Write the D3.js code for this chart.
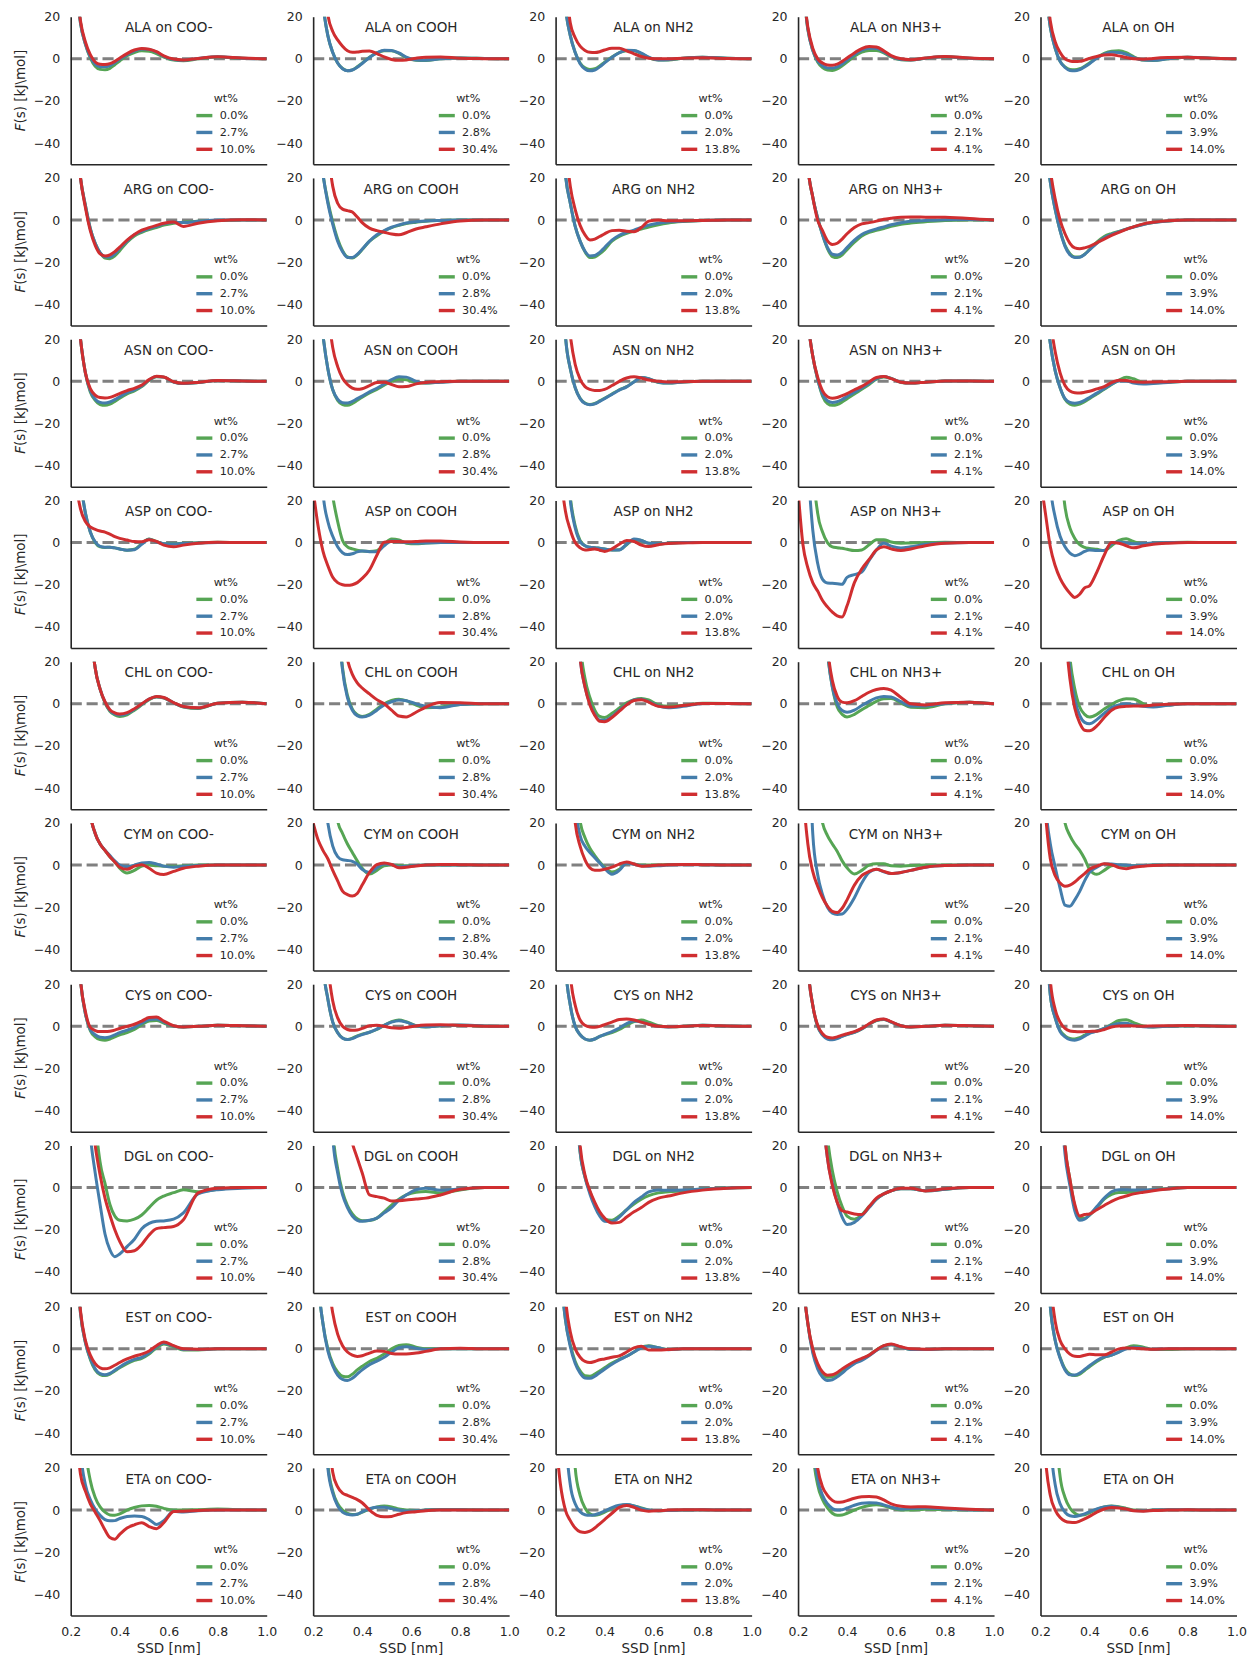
<!DOCTYPE html>
<html>
<head>
<meta charset="utf-8">
<script src="https://cdn.jsdelivr.net/npm/d3@7"></script>
<style>
  body { margin: 0; background: #ffffff; }
  svg { display: block; }
  text { font-family: "DejaVu Sans", sans-serif; fill: #262626; }
</style>
</head>
<body>
<svg id="chart" width="1247" height="1658"></svg>
<script>
// Surface-separation distance grid (nm) shared by every free-energy profile
const ssd = [0.20,0.22,0.24,0.26,0.28,0.30,0.32,0.34,0.36,0.38,0.40,0.43,0.46,0.49,0.52,0.55,0.58,0.62,0.66,0.72,0.80,0.90,1.00];

const surfaces = ["COO-", "COOH", "NH2", "NH3+", "OH"];
const molecules = ["ALA", "ARG", "ASN", "ASP", "CHL", "CYM", "CYS", "DGL", "EST", "ETA"];
// Solute concentration of each series, per surface column
const wtLabels = [
  ["0.0%", "2.7%", "10.0%"],
  ["0.0%", "2.8%", "30.4%"],
  ["0.0%", "2.0%", "13.8%"],
  ["0.0%", "2.1%", "4.1%"],
  ["0.0%", "3.9%", "14.0%"]
];
const seriesColors = ["#56a554", "#447dab", "#d02e30"];
const yTicks = [20, 0, -20, -40];
const xTicks = [0.2, 0.4, 0.6, 0.8, 1.0];

// F(s) in kJ/mol; per molecule: 5 surfaces x [0.0%, mid, high] series on the ssd grid
const ALA = [
 [[70,40,17,7,0.5,-3.5,-5,-5.2,-4.5,-2.8,-1,1.5,3,3.8,3.6,2.5,0.8,-0.6,-0.9,0,0.9,0.3,0],
  [70,40,17,7,1,-2.5,-3.7,-3.8,-3.2,-1.8,-0.2,2,3.8,4.7,4.4,3.2,1.2,-0.3,-0.7,0.2,1,0.3,0],
  [70,40,18,8,2,-1.5,-2.6,-2.7,-2.3,-1.2,0.3,2.5,4.2,4.9,4.6,3.4,1.4,-0.1,-0.5,0.2,1,0.4,0]],
 [[100,55,26,11,3,-2,-4.6,-5.6,-5.2,-3.8,-2,0.8,2.8,3.9,3.8,2.6,0.6,-0.7,-0.8,0,0.4,0.2,0],
  [100,55,26,11,3,-2,-4.7,-5.7,-5.3,-4,-2.2,0.6,2.8,4.1,4,2.8,0.8,-0.6,-0.7,0,0.4,0.2,0],
  [150,90,45,21,13,9,6,3.8,3.1,3.2,3.6,3.7,2.5,0.9,-0.3,-0.7,-0.5,0.3,0.8,0.9,0.3,0.1,0]],
 [[120,60,25,11,3,-2,-4.3,-5,-4.7,-3.4,-1.6,0.9,3,3.9,3.8,2.5,0.6,-0.6,-0.5,0.3,0.8,0.3,0],
  [120,60,25,11,3,-2.3,-4.8,-5.7,-5.3,-3.8,-1.9,0.7,2.9,4.1,4,2.7,0.8,-0.5,-0.4,0.3,0.8,0.3,0],
  [120,70,38,17,10,6,4,3.1,3,3.4,4.2,5,5,3.8,2.4,1.1,0.3,0,0,0.3,0.5,0.2,0]],
 [[60,35,14,4,-1.5,-4.2,-5.3,-5.5,-4.8,-3.3,-1.5,1.2,3.2,4,3.9,2.8,0.9,-0.4,-0.6,0.3,1,0.3,0],
  [60,35,14,4,-1,-3.3,-4.3,-4.4,-3.8,-2.4,-0.6,2,4.1,5,4.9,3.3,1.1,-0.3,-0.5,0.3,1,0.3,0],
  [60,35,15,5,0,-2,-2.9,-3,-2.5,-1.2,0.4,2.8,4.9,5.8,5.6,3.8,1.5,0,-0.4,0.4,1.1,0.4,0]],
 [[60,35,15,5,-1.2,-3.8,-5,-5.2,-4.7,-3.5,-2,0.6,2.6,3.6,3.8,2.9,1,-0.6,-0.8,0,0.8,0.3,0],
  [60,35,15,5,-1.2,-4.1,-5.5,-5.7,-5.1,-3.8,-2.3,0.3,2.2,3.1,3,2.2,0.7,-0.6,-0.7,0,0.7,0.3,0],
  [65,40,18,8,3,0,-1,-1.3,-1.2,-0.6,0.2,1.1,1.8,1.9,1.4,0.6,0,-0.2,0.2,0.6,0.8,0.3,0]]
];

const ARG = [
 [[70,45,20,7,-4,-11,-15.5,-18,-18.3,-17,-14.5,-10.5,-7.5,-5.8,-4.5,-3.5,-2.4,-1.5,-1,-0.6,-0.2,0,0],
  [70,45,20,7,-4,-11,-15.5,-17.4,-17.5,-16,-13.5,-10,-7,-5.3,-4,-3,-1.8,-1,-1.2,-0.6,0,0,0],
  [70,45,20,6,-5,-12,-16,-17,-16.5,-15,-12.8,-9.5,-6.8,-4.8,-3.6,-2.5,-1.5,-0.9,-3,-1.5,-0.3,0.2,0]],
 [[90,45,22,9,-1,-9,-14.5,-17.5,-18,-16.5,-14,-10,-7.4,-5.2,-3.6,-2.5,-1.6,-1,-0.5,-0.2,0,0,0],
  [90,45,22,8,-2,-10,-15,-17.7,-17.8,-16.3,-13.8,-10,-7,-5,-3.4,-2.3,-1.4,-0.8,-0.4,-0.2,0,0,0],
  [200,120,70,35,16,8,5.2,4.5,3.8,1.5,-1.2,-3.8,-5,-5.8,-6.6,-7,-6,-4.2,-3.2,-1.8,-0.4,0,0]],
 [[120,60,22,8,-3,-10,-15,-17.8,-17.5,-16,-14,-10,-7.8,-6.3,-5.2,-4.3,-3.3,-2.2,-1.4,-0.7,-0.2,0,0],
  [120,60,22,8,-3,-10,-14.8,-17,-16.8,-15.3,-13,-9.5,-7.2,-5.8,-4.8,-3.5,-2.4,-1.5,-0.9,-0.5,-0.2,0,0],
  [150,80,38,16,5,-2.5,-7,-9.4,-9,-7.8,-6.5,-5,-4.8,-5.3,-5.5,-3.5,-0.5,0,-0.3,-0.3,-0.2,0,0]],
 [[150,70,26,11,1,-7,-13.5,-17.3,-17.8,-16.5,-14,-10.5,-7.5,-5.8,-4.9,-4,-3,-2,-1.4,-0.8,-0.2,0,0],
  [150,70,26,11,1,-7,-13,-16.2,-16.6,-15.5,-13,-9.5,-6.8,-5.3,-4.2,-3.2,-2.2,-1.3,-0.6,-0.2,0.2,0.3,0],
  [150,70,26,11,0,-5,-9.8,-11.6,-11,-9,-6.5,-3.5,-1.8,-1.2,-0.5,0.4,0.9,1.4,1.5,1.4,1.3,0.8,0]],
 [[80,40,18,5,-5,-12,-16,-17.5,-17.5,-16.2,-14,-10.5,-7.8,-6.4,-5.4,-4.3,-3.2,-2,-1.1,-0.4,0,0,0],
  [80,40,18,5,-5,-12.5,-16.5,-17.8,-17.6,-16.3,-14.2,-11,-8.4,-6.8,-5.5,-4.3,-3.3,-2.1,-1.2,-0.4,0,0,0],
  [90,48,24,10,0,-6.5,-11,-13.2,-13.6,-13.2,-12.5,-10.8,-9,-7.3,-5.8,-4.4,-3.2,-1.8,-1,-0.3,0,0,0]]
];

const ASN = [
 [[70,45,20,4,-5,-9,-11,-11.4,-10.8,-9.5,-8,-6,-4.5,-2.5,0.5,2.2,2,-0.3,-1,-0.6,0.4,0.2,0],
  [70,45,20,4,-4.5,-8.5,-10,-10.3,-9.8,-8.7,-7.3,-5.4,-4,-2.2,0.6,2.3,2,-0.3,-1,-0.6,0.4,0.2,0],
  [70,45,20,4,-3.5,-6.5,-7.7,-7.9,-7.6,-6.8,-5.8,-4.4,-3.3,-1.8,0.8,2.4,2.1,-0.2,-0.9,-0.5,0.4,0.2,0]],
 [[90,45,22,6,-4,-9,-11,-11.4,-10.5,-9,-7.5,-5.5,-3.8,-1.8,0,1,0.8,-0.5,-0.8,-0.3,0,0,0],
  [90,45,22,6,-4,-8.5,-10.2,-10.3,-9.5,-8.2,-7,-5,-3.3,-1.2,0.8,2.2,2,0,-0.8,-0.4,0,0,0],
  [200,120,70,35,16,7,1.5,-1.5,-3.2,-3.8,-3.5,-2,-0.6,-0.4,-1.5,-2.6,-2.5,-1.2,-0.5,-0.2,0,0,0]],
 [[150,70,22,6,-3,-8,-10.3,-11,-10.5,-9.3,-8,-6,-4,-2.5,-0.2,1.8,1.2,-0.5,-0.8,-0.3,0,0,0],
  [150,70,22,6,-3,-8.2,-10.5,-11.1,-10.7,-9.5,-8.2,-6.2,-4.2,-2.6,-0.3,1.8,1.3,-0.4,-0.8,-0.3,0,0,0],
  [160,90,48,22,8,1,-2.5,-3.8,-4.3,-4.3,-3.8,-2,0,1.6,2.2,1.6,0.6,0,-0.3,-0.2,0,0,0]],
 [[150,70,30,12,1,-7,-10.5,-11.4,-11,-9.8,-8.3,-6,-3.8,-1.5,1,2.1,1.4,-0.5,-0.8,-0.4,0.2,0.2,0],
  [150,70,30,12,1,-6.2,-9.2,-10,-9.6,-8.6,-7.2,-5.2,-3.2,-1,1.3,2.3,1.4,-0.4,-0.8,-0.4,0.2,0.2,0],
  [150,70,30,12,2,-4.5,-7.3,-8,-7.7,-6.8,-5.8,-4,-2.4,-0.3,1.8,2.3,1.3,-0.4,-0.8,-0.4,0.2,0.2,0]],
 [[80,40,18,5,-3,-8.5,-10.8,-11.3,-10.8,-9.6,-8.2,-6,-3.8,-1.5,0.5,1.9,1.2,-0.6,-0.8,-0.4,0,0,0],
  [80,40,18,5,-3,-8.2,-10,-10.4,-10,-9,-7.7,-5.6,-3.5,-1.3,0.2,0.2,-0.8,-1.3,-1,-0.5,0,0,0],
  [100,60,30,14,4,-2,-4.6,-5.4,-5.5,-5.2,-4.7,-3.6,-2.5,-0.6,0.5,0.4,-0.2,-0.4,-0.3,-0.2,0,0,0]]
];

const ASP = [
 [[100,60,30,14,5,0,-2,-2.3,-2.2,-2.5,-3,-3.6,-3.2,-0.5,1.7,0.5,-0.5,-0.6,-0.3,-0.1,0.2,0,0],
  [100,60,30,14,5,0.3,-1.8,-2.2,-2.2,-2.5,-3,-3.6,-3.4,-0.8,1.6,0.3,-0.5,-0.7,-0.4,-0.2,0.1,0,0],
  [60,30,16,10,7.4,6.3,5.5,5,4,2.8,2,1.2,0.5,0.4,1.4,0.6,-1.2,-2,-1.2,-0.3,0.2,0,0]],
 [[300,160,80,40,22,10,1,-2,-3,-3.6,-4,-4.2,-3.8,-0.8,1.7,1.3,-0.3,-0.6,-0.2,0,0,0,0],
  [150,70,24,10,3,-2,-4.8,-5.7,-5.3,-4.4,-4,-4.3,-4.3,-1.5,0.8,0.6,0,-0.3,-0.2,0,0,0,0],
  [25,8,-4,-11,-16.5,-19,-20,-20.3,-20,-19,-17,-13,-6,0.2,0.5,0.5,0.4,0.5,0.8,0.8,0.3,0,0]],
 [[200,120,55,22,8,1,-1.5,-2.2,-2.4,-2.7,-3,-3.5,-3.4,-1,1.5,1,-0.3,-0.5,-0.3,0,0,0,0],
  [180,100,50,20,7,0.5,-1.5,-2.2,-2.4,-2.7,-3,-3.5,-3.5,-0.8,1.7,1,-0.3,-0.5,-0.3,0,0,0,0],
  [80,35,15,6,0,-2.5,-3.5,-3.3,-3,-3.6,-4.2,-3,-0.8,1,0.5,-1.2,-1.9,-1,-0.4,-0.2,0,0,0]],
 [[400,250,120,40,14,5,0,-2,-2.4,-2.7,-3.2,-3.8,-3.5,-1,1.3,1.4,0.3,-0.3,-0.2,0,0.2,0,0],
  [200,110,40,6,-9.8,-17.5,-19.2,-19.3,-19.5,-19.8,-16.5,-15.2,-14,-8.5,-3.5,-0.3,-1.7,-2.6,-2,-0.8,-0.2,0,0],
  [25,-1,-12,-19,-23,-27.5,-30.5,-33,-34.8,-35.3,-30,-19,-12.5,-8,-3.5,-2,-3,-3.8,-3,-1.5,-0.3,0,0]],
 [[400,250,150,85,42,17,7,2,-1,-2.3,-2.8,-3.2,-3.8,-1.5,1,1.8,0.5,-0.5,-0.3,0,0.2,0,0],
  [150,80,28,12,3,-2,-5,-6.2,-5.5,-4.2,-3.5,-3.8,-3.8,-0.5,0.3,-0.2,-0.5,-0.4,-0.2,0,0,0,0],
  [30,14,-2,-11,-17,-21,-24,-26,-24.5,-21.5,-20.5,-14,-6,0,-0.3,-1.5,-2.5,-1.5,-0.8,-0.3,0,0,0]]
];

const CHL = [
 [[600,400,220,100,40,17,7,0.5,-3.5,-5.3,-6,-5.2,-3,-0.5,2,3.2,2.8,0.5,-1.5,-2.2,0.3,0.8,0],
  [600,400,220,100,40,17,7,0.8,-3.2,-4.8,-5.3,-4.6,-2.6,-0.2,2.2,3.4,2.9,0.5,-1.4,-2,0.3,0.8,0],
  [600,400,220,100,40,17,7,1,-2.8,-4.3,-4.8,-4.2,-2.3,0,2.3,3.5,3,0.6,-1.3,-1.9,0.3,0.8,0]],
 [[800,550,350,200,100,45,17,4,-2.5,-5.2,-6,-5,-2.5,0,1.6,2.2,1.5,-0.6,-1.8,-1.5,-0.3,0,0],
  [800,550,350,200,100,45,16,3,-3,-5.6,-6.3,-5.4,-3,-0.5,1,1.8,1.5,0,-1.2,-1.8,-0.3,0,0],
  [900,700,500,300,150,70,35,21,14,10,7.5,4.7,2,0,-3,-5.8,-6.2,-4,-1.5,0.6,0.5,0,0]],
 [[700,500,300,170,80,30,12,3,-3,-6,-6.5,-4.5,-2,0.5,2,2.5,1.8,-0.5,-1.2,-0.8,0.3,0.2,0],
  [600,400,250,130,60,22,8,0,-5,-7.7,-7.8,-6,-3,-0.3,1.8,2.2,1,-1,-1.8,-1.2,0.2,0.2,0],
  [600,400,250,130,60,22,8,-0.5,-5.5,-8.3,-8.5,-6.5,-3.5,-0.5,1.6,2,0.8,-1.2,-1.5,-0.8,0.2,0.2,0]],
 [[900,600,400,250,130,60,25,8,-1.5,-5,-6.2,-5,-2.8,-0.8,1.2,2.4,2.5,0.5,-1.6,-1.8,0,0.8,0],
  [900,600,400,250,130,60,25,8,0,-3.2,-4,-3,-0.8,1.2,2.8,3.5,3.3,1,-1,-1,0.2,0.8,0],
  [900,600,400,250,130,60,27,11,3.5,0.8,0.5,1.5,3.5,5.5,6.8,7.3,6.5,3,0,-0.5,0.5,0.8,0]],
 [[900,600,400,250,120,55,22,7,-1.5,-5,-6.3,-5,-2.5,-0.3,1.5,2.4,2.3,0,-1.2,-0.6,0.2,0,0],
  [800,550,350,200,100,45,16,2,-5.5,-8.8,-9.5,-7.5,-4.5,-1.8,-0.5,0,-0.3,-1.2,-1.5,-0.7,0,0,0],
  [800,520,330,190,90,38,12,-2,-9,-12.5,-12.8,-10.5,-6.5,-3,-1.5,-1.2,-1,-1,-0.6,-0.2,0,0,0]]
];

const CYM = [
 [[300,200,120,60,25,15,10,7,4,1.5,-1.5,-3.8,-2.5,-0.5,0,-0.3,-0.5,-0.5,-0.3,0,0,0,0],
  [300,200,120,60,25,15,10,7,4.5,2,0,-0.8,0,1,1.2,0.5,-0.5,-1,-0.6,-0.2,0,0,0],
  [300,200,120,60,25,15,10,7,4,1.5,-1,-2,-0.5,0.2,-1.5,-3.8,-4.5,-3,-1.5,-0.5,0,0,0]],
 [[500,300,180,100,50,21,15,10,6,2,-1.5,-4.2,-2.5,-0.3,0,-0.2,-0.3,-0.2,0,0,0,0,0],
  [150,80,40,20,9,4,2.5,2.2,1.8,0.5,-2,-3.5,-1.2,0.5,0.3,-0.9,-0.6,-0.2,0,0,0,0,0],
  [20,12,7,3,-2.5,-7.5,-12.3,-14,-14.7,-13.5,-9.5,-3.5,0.2,1,0.3,-1.3,-1,-0.4,0,0.3,0.2,0,0]],
 [[800,500,300,150,60,21,13,8,4.5,1.5,-1,-3.3,-2,1,0.5,0,0,0,0.3,0.3,0.2,0,0],
  [600,400,200,90,30,14,9,6,3.5,1,-1.5,-4.3,-2.5,0.9,0.4,-0.3,-0.5,-0.3,0,0.2,0.2,0,0],
  [400,250,120,50,20,9,2.5,-1.3,-2.4,-2.4,-2,-1,0.5,1.5,0.5,-0.5,-0.3,0,0.2,0.3,0.2,0,0]],
 [[600,300,150,70,35,20,14,10,6.5,2,-1.3,-4.2,-2.5,0,0.6,0.6,-0.3,-0.5,-0.2,0,0,0,0],
  [300,180,80,15,-4.5,-14,-20,-22.8,-23.4,-23.2,-21,-15.5,-8.5,-3.5,-2,-3.2,-4,-3.5,-2.5,-1,-0.2,0,0],
  [120,40,10,-3,-10,-15.5,-19.5,-22,-22.5,-20.5,-16.5,-9.5,-5,-3,-2,-3,-4,-3.5,-2.5,-1,-0.2,0,0]],
 [[600,300,150,70,35,20,14,10,7,3,-2,-4.4,-2.5,-0.3,0,-0.2,-0.3,-0.2,0,0,0,0,0],
  [80,30,10,-1,-11,-19,-19.5,-16.5,-12.5,-7.5,-3.5,-1,0.5,0.5,0.2,0,-0.3,-0.2,0,0,0,0,0],
  [60,25,3,-5,-8.5,-10,-9.5,-8,-6,-4,-2,-0.5,0.6,0.2,-1.2,-1.7,-1,-0.5,-0.2,0,0,0,0]]
];

const CYS = [
 [[120,60,22,6,-2,-5,-6.3,-6.6,-6,-5,-4,-3,-1.5,0.8,2.5,2.8,1.5,0,-0.3,0,0.5,0.3,0],
  [120,60,22,6,-1.5,-4,-5.2,-5.4,-5,-4,-3,-1.8,-0.5,1.5,3.2,3.5,2,0.2,-0.3,0,0.5,0.3,0],
  [120,60,22,7,-0.5,-2,-2.5,-2.5,-2.3,-1.8,-1,0,1,2.5,4.2,4.4,2.5,0.3,-0.3,0,0.5,0.3,0]],
 [[150,80,30,13,2,-3,-5.5,-6.2,-5.6,-4.5,-3.7,-2.8,-1.5,0.5,2.2,3,2.2,0.3,-0.3,0.3,0.5,0.2,0],
  [150,80,30,13,2,-3,-5.6,-6.3,-5.8,-4.8,-3.9,-2.8,-1.3,0.5,2,2.7,2,0.3,-0.2,0.3,0.6,0.2,0],
  [300,150,70,30,12,4,0,-1.5,-1.9,-1.7,-1,0.3,0.5,0,-0.7,-0.9,-0.5,0.2,0.6,0.8,0.4,0.1,0]],
 [[200,100,30,10,0,-4,-6,-6.6,-6,-4.8,-4,-3,-1.5,0.5,2.2,3,2,0.3,-0.2,0,0.5,0.2,0],
  [200,100,30,10,0,-4,-6,-6.6,-6,-4.8,-3.8,-2.5,-0.8,1.3,2.5,2,1,0,-0.3,0,0.5,0.2,0],
  [250,150,70,25,10,3,0.5,-0.3,-0.4,0,0.8,2,3.2,3.5,3,2,1,0,-0.2,0,0.4,0.2,0]],
 [[200,100,30,10,0,-4,-5.8,-6.2,-5.6,-4.6,-3.8,-2.8,-1.2,1,2.8,3.3,2,0.3,-0.3,0,0.5,0.3,0],
  [200,100,30,10,0,-4.2,-6,-6.4,-5.8,-4.8,-3.9,-2.8,-1.2,1,2.8,3.4,2,0.3,-0.3,0,0.5,0.3,0],
  [200,100,30,10,0.5,-3.5,-5.2,-5.5,-5,-4.2,-3.5,-2.5,-1,1.2,3,3.5,2.2,0.3,-0.3,0,0.5,0.3,0]],
 [[100,50,15,4,-2,-4.5,-5.7,-6,-5.4,-4.2,-3,-2.2,-1,1,2.8,3.1,1.8,0.2,-0.3,0,0.3,0.2,0],
  [100,50,15,4,-2.5,-5,-6.3,-6.6,-6,-4.7,-3.3,-2.3,-1,0.5,1.4,1.5,0.5,-0.2,-0.3,0,0.3,0.2,0],
  [150,70,22,8,2,-1,-2.2,-2.5,-2.6,-2.5,-2.4,-2.3,-1.5,-0.3,0.2,0.3,0.2,0.1,0.2,0.3,0.4,0.2,0]]
];

const DGL = [
 [[900,600,400,200,90,35,12,2,-8,-13.5,-15.5,-15.8,-15,-13,-9.5,-6,-4,-2.4,-1,-2,-0.8,0,0],
  [300,200,110,60,25,7,-8,-22,-29.5,-32.8,-31.5,-28,-24.5,-19.5,-17,-16,-15.8,-15,-12,-3,-1,-0.3,0],
  [400,250,150,80,40,20,6,-5,-13,-20,-25.5,-30.5,-30,-27,-22.5,-19.5,-19,-18.5,-15.3,-2.5,-0.3,0,0]],
 [[800,400,200,90,28,9,-2,-8.5,-12.5,-14.8,-15.7,-15.6,-14.5,-11.5,-8.3,-5.5,-3.5,-2.2,-1.9,-2.6,-1.1,0,0],
  [700,350,180,80,24,7,-3.5,-9.5,-13.5,-15.5,-16,-15.5,-14.5,-12,-9.5,-6,-3.5,-1,-0.3,-1.3,-0.7,0,0],
  [2000,1200,700,400,200,100,50,30,21,14,7,-3.5,-4.3,-5,-6.4,-6.2,-5.9,-5.4,-5,-3.5,-0.8,0,0]],
 [[900,600,300,150,50,17,5,-2,-8,-12.5,-15,-15.5,-13.5,-10.5,-7.8,-5.5,-3.8,-2.5,-2,-1.5,-0.7,-0.2,0],
  [900,600,300,150,50,17,5,-3,-9,-13.5,-16,-16.2,-14,-10.5,-7,-4.5,-2,-1.2,-1.3,-1.2,-0.7,-0.2,0],
  [900,600,300,150,55,20,6,-1.5,-7,-11.5,-14.5,-16.8,-16.5,-14,-11.5,-9.5,-7,-5,-4,-2.5,-1.2,-0.3,0]],
 [[900,600,400,250,120,55,24,8,-2,-9,-13.5,-15,-13,-9,-5.5,-3,-1.5,-0.6,-0.6,-1.5,-0.8,0,0],
  [900,600,400,250,110,40,14,2,-7,-14,-17.5,-16.5,-13.5,-9.5,-5.5,-3,-1.5,-0.6,-0.5,-1.5,-0.8,0,0],
  [900,600,400,250,110,40,14,1,-7,-11,-11.6,-12.5,-12.8,-9,-5,-3,-1.5,-0.3,-0.3,-1.6,-0.6,0,0]],
 [[900,600,350,150,60,20,4,-9,-14.5,-14.6,-13,-9.5,-5.5,-3.2,-2.3,-2.3,-2,-1.5,-1,-0.5,0,0,0],
  [800,500,300,130,50,16,1,-11,-15.5,-15,-13,-9,-5,-2,-1,-1,-1.2,-1.2,-1,-0.6,0,0,0],
  [900,600,350,150,60,20,4,-8,-13.5,-12.8,-12.5,-10.5,-8.5,-6.5,-5,-4,-3,-2.2,-1.5,-0.7,0,0,0]]
];

const EST = [
 [[90,50,17,3,-5,-10,-12.2,-12.7,-12,-10.5,-9,-7,-5.5,-4.5,-2.5,0.5,2.3,1,-0.6,-0.5,0,0,0],
  [90,50,17,3,-4.5,-9.5,-11.8,-12.3,-11.6,-10.2,-8.6,-6.5,-5,-4,-2,1,2.8,1.3,-0.3,-0.3,0,0,0],
  [90,50,18,4,-3,-7,-9,-9.5,-9,-7.8,-6.5,-4.8,-3.5,-2.5,-1,1.5,3.2,1.5,0,-0.2,0,0,0]],
 [[100,35,12,0,-7,-11,-13,-13.3,-12,-10,-8.3,-6,-4.5,-2.5,0,1.6,2,0.8,0,0,0,0,0],
  [100,35,12,-1,-8,-12.5,-14.5,-15,-14,-12,-10,-7.5,-5.8,-4,-1.5,0.5,1,0.3,-0.3,0,0,0,0],
  [300,150,70,35,17,7,1.5,-1.5,-3,-3.6,-3.3,-2,-1,-1.2,-2.2,-2.5,-2.5,-2,-1.2,0,0.3,0,0]],
 [[100,40,14,2,-6,-10.5,-12.8,-13,-12,-10.5,-9,-6.8,-5,-3.5,-1.5,0.8,1.5,0.5,-0.3,0,0,0,0],
  [100,40,14,1,-7,-11.5,-13.8,-14,-13,-11.3,-9.7,-7.3,-5.3,-3.5,-1.5,0.5,1.2,0.5,-0.4,0,0,0,0],
  [150,70,25,8,0,-4,-6,-6.5,-6,-5.2,-4.8,-4,-3.3,-1.5,0.5,1.2,-0.5,-0.5,-0.3,0,0,0,0]],
 [[90,35,12,-1,-8,-12,-13.5,-13.3,-12,-10.2,-8.5,-6.5,-5,-3,-0.5,1.5,2,0.8,-0.3,-0.3,0,0,0],
  [90,35,12,-2,-9.5,-13.5,-15,-14.7,-13.3,-11.5,-9.5,-7,-5.5,-3.3,-0.8,1.3,2,0.8,-0.3,-0.3,0,0,0],
  [90,35,12,0,-7,-11,-12.5,-12.3,-11.2,-9.5,-8,-6,-4.5,-3,-0.5,1.5,2.3,1,0,-0.2,0,0,0]],
 [[150,60,20,4,-4,-9.5,-12,-12.7,-12,-10.3,-8.5,-6,-4,-3,-1.5,0.5,1.5,0.8,-0.3,-0.3,0,0,0],
  [150,60,20,4,-4.5,-10,-12.3,-12.4,-11.5,-9.8,-8,-5.5,-3.8,-3,-1.5,0,0.8,0.3,-0.2,0,0,0,0],
  [200,90,35,13,4,0,-2.5,-3.5,-3.6,-3,-2.6,-2.8,-2.8,-1.5,0,0.4,0.3,0,-0.2,0,0,0,0]]
];

const ETA = [
 [[300,150,70,30,14,6,1.5,-1,-2.3,-2.4,-1.8,0,1.2,2,2.2,1.8,0.8,0,0,0.2,0.5,0.2,0],
  [150,70,28,12,5,0.5,-2.5,-4.5,-5.1,-5,-4,-3,-2.8,-3,-4.5,-6.8,-5,-0.6,-0.9,-0.3,0,0,0],
  [100,45,17,9,3,-1,-5,-9.5,-13,-13.8,-11.5,-8.5,-7,-6,-7.8,-8.8,-6,-0.7,-0.5,-0.2,0,0,0]],
 [[300,150,60,22,9,3,0,-1.5,-2.1,-2,-1,0.5,1.5,1.9,1.5,0.5,0,-0.2,0,0.3,0.3,0,0],
  [300,150,55,20,8,2,-1,-2,-2.3,-2,-0.8,0.6,1.4,1.3,0.7,0,-0.4,-0.3,0,0.2,0.2,0,0],
  [400,200,90,40,18,11,8,7,6,5,3.5,0,-2.5,-3.2,-3,-2,-1.2,-0.8,-0.3,0,0.1,0,0]],
 [[800,500,250,80,20,7,1,-1.8,-2.5,-2,-1,0.8,2,2.5,2,1,0,-0.3,-0.2,0,0.2,0,0],
  [300,130,40,12,3,-0.8,-2.2,-2.5,-2.2,-1.5,-0.5,1.2,2.3,2.6,2,0.8,0,-0.3,-0.2,0,0.2,0,0],
  [35,12,0,-5,-8.5,-10.3,-10.6,-10,-8.5,-6.5,-4.5,-1.5,1.3,2.2,1.3,0,-0.5,-0.3,0,0.2,0.2,0,0]],
 [[800,400,150,30,12,5,1,-1.5,-2.4,-2.3,-1.5,0,1.3,2.2,2.5,2,1,0,0,0.4,0.2,0,0],
  [800,400,150,35,15,7,3,0.8,0,0.2,1,2.3,3.2,3.5,3.4,2.5,1.4,0.5,0.8,1,0.5,0.1,0],
  [800,400,150,40,20,11,7,4.6,3.7,3.8,4.5,5.6,6.3,6.5,6.2,4.8,3,1.8,1.5,1.6,1,0.4,0]],
 [[800,400,150,45,16,6,1,-1.5,-2.4,-2.2,-1.3,0.3,1.5,2,1.6,0.8,0,-0.2,0,0.2,0.2,0,0],
  [300,120,35,12,3,-1,-2.7,-3,-2.6,-1.8,-0.8,0.6,1.5,1.8,1.3,0.5,-0.2,-0.3,0,0.2,0.2,0,0],
  [70,25,7,0,-3.5,-5.2,-5.8,-5.9,-5.2,-4.2,-3,-1,0.5,1.2,1,0.5,-0.3,-0.5,-0.2,0,0.2,0,0]]
];

const profiles = { ALA, ARG, ASN, ASP, CHL, CYM, CYS, DGL, EST, ETA };

// ---- layout ----
const panelW = 196, panelH = 147.5;
const colLeft = c => 70.7 + 242.45 * c;
const rowTop = r => 16.7 + 161.25 * r;

const svg = d3.select("#chart");
const x = d3.scaleLinear().domain([0.2, 1.0]).range([0, panelW]);
const y = d3.scaleLinear().domain([-50, 20]).range([panelH, 0]);
const fmt = d3.format("");

svg.append("defs").append("clipPath").attr("id", "plotArea")
  .append("rect").attr("x", 0).attr("y", 0).attr("width", panelW).attr("height", panelH);

const line = d3.line()
  .x(d => x(d[0]))
  .y(d => y(d[1]))
  .curve(d3.curveMonotoneX);

molecules.forEach((mol, r) => {
  surfaces.forEach((surf, c) => {
    const g = svg.append("g").attr("transform", `translate(${colLeft(c)},${rowTop(r)})`);
    const isBottom = r === molecules.length - 1;

    // zero reference
    g.append("line")
      .attr("x1", x(0.2)).attr("x2", x(1.0))
      .attr("y1", y(0)).attr("y2", y(0))
      .attr("stroke", "#808080").attr("stroke-width", 3)
      .attr("stroke-dasharray", "11.1,4.8");

    // free-energy profiles
    const plot = g.append("g").attr("clip-path", "url(#plotArea)");
    profiles[mol][c].forEach((vals, k) => {
      const pts = ssd.map((s, i) => [s, vals[i]]);
      plot.append("path")
        .attr("d", line(pts))
        .attr("fill", "none")
        .attr("stroke", seriesColors[k])
        .attr("stroke-width", 3)
        .attr("stroke-linejoin", "round")
        .attr("stroke-linecap", "butt");
    });

    // y axis
    const ya = g.append("g")
      .call(d3.axisLeft(y).tickValues(yTicks).tickSize(0).tickSizeOuter(0).tickPadding(10.5).tickFormat(fmt));
    ya.select(".domain").attr("stroke", "#262626").attr("stroke-width", 1.6);
    ya.selectAll("text").attr("font-size", 12.5).attr("fill", "#262626")
      .attr("font-family", '"DejaVu Sans", sans-serif');

    // x axis
    const xa = g.append("g").attr("transform", `translate(0,${panelH})`)
      .call(d3.axisBottom(x).tickValues(xTicks).tickSize(0).tickSizeOuter(0).tickPadding(11.3)
        .tickFormat(isBottom ? d3.format(".1f") : () => ""));
    xa.select(".domain").attr("stroke", "#262626").attr("stroke-width", 1.6);
    xa.selectAll("text").attr("font-size", 12.5).attr("fill", "#262626")
      .attr("font-family", '"DejaVu Sans", sans-serif');

    // title
    g.append("text")
      .attr("x", panelW / 2).attr("y", 15.6)
      .attr("text-anchor", "middle").attr("font-size", 13.5)
      .text(`${mol} on ${surf}`);

    // legend (anchored lower right)
    const legRight = 184.5;
    const entries = wtLabels[c];
    const lg = g.append("g");
    const texts = entries.map((lab, k) =>
      lg.append("text").attr("font-size", 11.2).attr("y", 102.3 + 16.85 * k).text(lab));
    const maxW = d3.max(texts, t => t.node().getComputedTextLength());
    const textX = legRight - maxW;
    const h1 = textX - 7.3, h0 = h1 - 16;
    texts.forEach((t, k) => {
      t.attr("x", textX);
      lg.append("line")
        .attr("x1", h0).attr("x2", h1)
        .attr("y1", 102.3 + 16.85 * k - 3.4).attr("y2", 102.3 + 16.85 * k - 3.4)
        .attr("stroke", seriesColors[k]).attr("stroke-width", 3.4);
    });
    lg.append("text")
      .attr("x", (h0 + legRight) / 2).attr("y", 85.4)
      .attr("text-anchor", "middle").attr("font-size", 11.2)
      .text("wt%");

    if (c === 0) {
      const yl = g.append("text")
        .attr("transform", `translate(${25 - colLeft(0)},${panelH / 2}) rotate(-90)`)
        .attr("text-anchor", "middle").attr("font-size", 13.5);
      yl.append("tspan").attr("font-style", "italic").text("F");
      yl.append("tspan").text("(s) [kJ\\mol]");
    }
    if (isBottom) {
      g.append("text")
        .attr("x", panelW / 2).attr("y", panelH + 37.6)
        .attr("text-anchor", "middle").attr("font-size", 13.5)
        .text("SSD [nm]");
    }
  });
});
</script>
</body>
</html>
